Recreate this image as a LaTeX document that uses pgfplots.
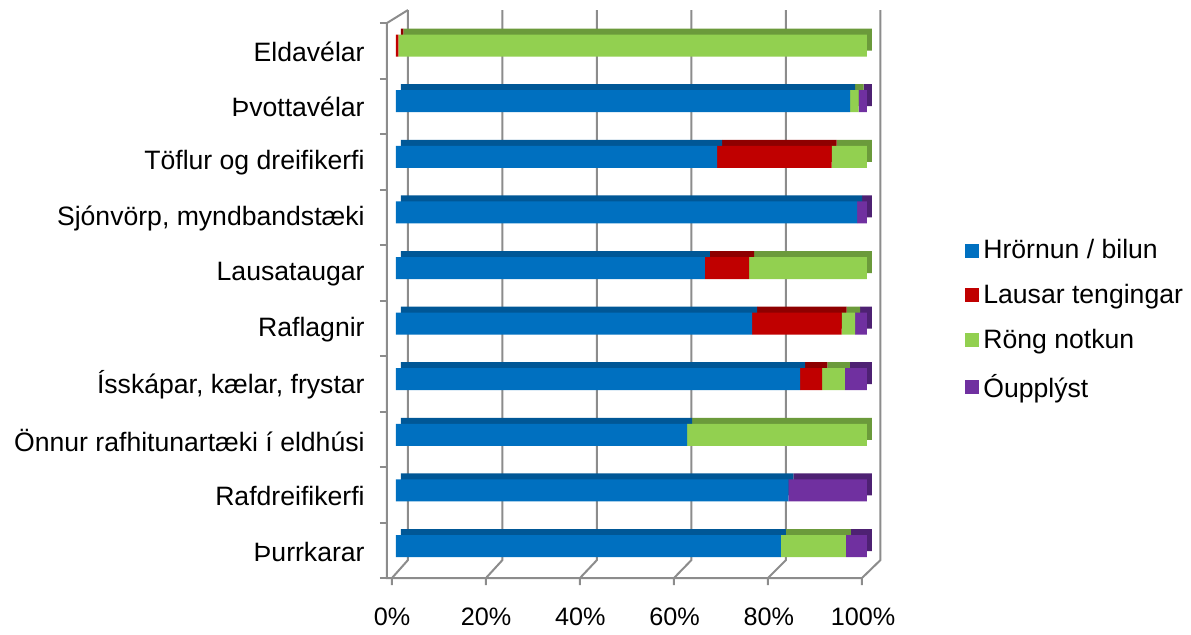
\documentclass[border=0pt]{standalone}
\usepackage{pgfplots}
\pgfplotsset{compat=1.18}
\usepackage{pgfplotstable}
\usepackage{fontspec}
\setmainfont{Liberation Sans}
\definecolor{cb}{HTML}{0070C0}
\definecolor{cr}{HTML}{C00000}
\definecolor{cg}{HTML}{92D050}
\definecolor{cp}{HTML}{7030A0}
\definecolor{db}{HTML}{005796}
\definecolor{dr}{HTML}{8E0000}
\definecolor{dg}{HTML}{6B9A3B}
\definecolor{dp}{HTML}{4E2173}
\definecolor{fr}{HTML}{8C8C8C}
\newcommand\fs{\fontsize{13.3}{16}\selectfont}
\newcommand\fx{\fontsize{12.6}{15}\selectfont}
\pgfplotstableread{
y blue red green purple
0 81.7 0 13.8 4.5
1 83.3 0 0 16.7
2 61.8 0 38.2 0
3 85.8 4.7 4.8 4.7
4 75.6 19.0 2.9 2.5
5 65.6 9.4 25.0 0
6 97.9 0 0 2.1
7 68.2 24.3 7.5 0
8 96.4 0 1.8 1.8
9 0 0.5 99.5 0
}\data
\begin{document}
\begin{tikzpicture}
\useasboundingbox (-198pt,273pt) rectangle (397.5pt,-44pt);
\begin{scope}[shift={(-198pt,273pt)},x=0.5pt,y=-0.5pt,draw=fr,line width=1pt]
  \foreach \k in {0,...,5} {
    \draw (408+94.5*\k,10) -- (408+94.5*\k,560) -- (392+94*\k,578) -- (392+94*\k,585);
  }
  \draw (408,10) -- (387,23) -- (387,578) -- (862,578);
  \foreach \k in {0,...,10} {
    \draw (380,23+55.5*\k) -- (387,23+55.5*\k);
  }
\end{scope}
% back faces (3D depth)
\begin{axis}[at={(2.5pt,3pt)}, anchor=origin, x=2.355pt, y=27.8pt,
  xmin=-1.91, xmax=103.1, ymin=-0.6, ymax=9.7, enlargelimits=false,
  axis lines=none, xtick=\empty, ytick=\empty, clip=false,
  xbar stacked, bar width=11pt]
  \addplot[fill=db, draw=none] table[x=blue,y=y]{\data};
  \addplot[fill=dr, draw=none] table[x=red,y=y]{\data};
  \addplot[fill=dg, draw=none] table[x=green,y=y]{\data};
  \addplot[fill=dp, draw=none] table[x=purple,y=y]{\data};
\end{axis}
% front faces
\begin{axis}[at={(0pt,0pt)}, anchor=origin, x=2.355pt, y=27.8pt,
  xmin=-1.91, xmax=103.1, ymin=-0.6, ymax=9.7, enlargelimits=false,
  axis lines=left, axis line style={draw=none}, clip=false,
  major tick length=0pt, tick style={draw=none},
  xbar stacked, bar width=11pt,
  ytick={0,...,9},
  yticklabels={Þurrkarar,Rafdreifikerfi,Önnur rafhitunartæki í eldhúsi,{Ísskápar, kælar, frystar},Raflagnir,Lausataugar,{Sjónvörp, myndbandstæki},Töflur og dreifikerfi,Þvottavélar,Eldavélar},
  xtick={0,20,40,60,80,100},
  xticklabels={0\%,20\%,40\%,60\%,80\%,100\%},
  yticklabel style={font=\fs, inner sep=0pt, anchor=east, xshift=-11pt, yshift=-3pt},
  xticklabel style={font=\fx, inner sep=0pt, anchor=north, yshift=-14pt, xshift=-2pt},
  legend style={at={(axis cs:120.8,4.07)}, anchor=west, draw=none, fill=none,
    inner sep=0pt, font=\fs, row sep=7.3pt},
  legend cell align=left,
  legend image code/.code={\fill[#1] (0pt,-3.5pt) rectangle (7pt,3.5pt);}]
  \addplot[fill=cb, draw=none] table[x=blue,y=y]{\data};
  \addlegendentry{Hrörnun / bilun}
  \addplot[fill=cr, draw=none] table[x=red,y=y]{\data};
  \addlegendentry{Lausar tengingar}
  \addplot[fill=cg, draw=none] table[x=green,y=y]{\data};
  \addlegendentry{Röng notkun}
  \addplot[fill=cp, draw=none] table[x=purple,y=y]{\data};
  \addlegendentry{Óupplýst}
\end{axis}
\end{tikzpicture}
\end{document}
